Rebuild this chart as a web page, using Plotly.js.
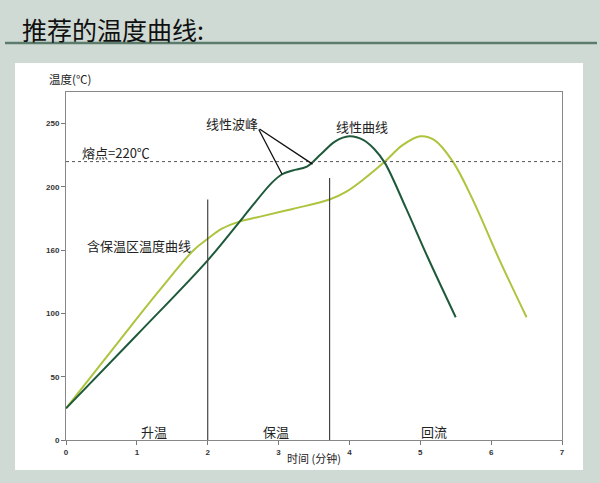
<!DOCTYPE html>
<html>
<head>
<meta charset="utf-8">
<script src="https://cdn.plot.ly/plotly-3.0.1.min.js"></script>
<style>
html,body{margin:0;padding:0;background:#d0dad4;}
#chart{width:600px;height:483px;}
</style>
</head>
<body>
<div id="chart"></div>
<script>
// ---- data ----
var linearTime = [0, 1, 2, 2.5, 2.9, 3.05, 3.2, 3.4, 3.6, 3.8, 4.0, 4.2, 4.35, 4.5, 4.8, 5.1, 5.5];
var linearTemp = [25, 83, 142, 176, 203, 210, 213, 216, 226, 236, 240, 237, 230, 219, 183, 145, 97];

var soakTime = [0, 0.76, 1.33, 1.8, 2.0, 2.2, 2.45, 2.74, 3.2, 3.72, 3.95, 4.2, 4.5, 4.75, 5.0, 5.2, 5.46, 5.74, 6.12, 6.5];
var soakTemp = [25, 79, 119, 150, 159, 167, 172.6, 176.5, 182.6, 190, 196, 206, 220, 233, 240, 237, 220, 190, 142, 97];

var xTickVals = [0, 1, 2, 3, 4, 5, 6, 7];
var yTickVals = [0, 50, 100, 150, 200, 250];
var yTickText = ['0', '50', '100', '160', '200', '250'];

var meltingPoint = 220;
var phaseBoundaries = [2, 3.72];
var phaseBoundaryTops = [190, 207];
var phaseLabels = ['升温', '保温', '回流'];
var phaseLabelX = [1.24, 2.97, 5.2];

var peakPoints = [[3.05, 210], [3.48, 218]];

// ---- chart ----
var traces = [
  {x: soakTime, y: soakTemp, mode: 'lines', line: {color: '#acc43e', width: 2, shape: 'spline', smoothing: 1}, hoverinfo: 'skip'},
  {x: linearTime, y: linearTemp, mode: 'lines', line: {color: '#1e5a3a', width: 2, shape: 'spline', smoothing: 1}, hoverinfo: 'skip'}
];

var px = function(p){ return (p - 66) / 496; };
var py = function(p){ return (440 - p) / 348; };

var shapes = [
  {type: 'rect', xref: 'paper', yref: 'paper', x0: px(15), x1: px(583), y0: py(470), y1: py(63), fillcolor: '#ffffff', line: {width: 0}, layer: 'below'},
  {type: 'line', xref: 'paper', yref: 'paper', x0: px(5), x1: px(597), y0: py(43), y1: py(43), line: {color: '#5b7b6b', width: 2.5}},
  {type: 'line', xref: 'x', yref: 'y', x0: 0, x1: 7, y0: meltingPoint, y1: meltingPoint, line: {color: '#555555', width: 1, dash: 'dot'}}
];
phaseBoundaries.forEach(function(b, i){
  shapes.push({type: 'line', xref: 'x', yref: 'y', x0: b, x1: b, y0: 0, y1: phaseBoundaryTops[i], line: {color: '#444444', width: 1.2}});
});

var txtFont = {family: 'Noto Sans CJK SC, sans-serif', size: 13, color: '#222'};
var annotations = [
  {xref: 'paper', yref: 'paper', x: px(20), y: py(29), xanchor: 'left', yanchor: 'middle', text: '推荐的温度曲线:', showarrow: false,
   font: {family: 'Noto Sans CJK SC, sans-serif', size: 25, color: '#111'}},
  {xref: 'paper', yref: 'paper', x: px(47), y: py(79), xanchor: 'left', yanchor: 'middle', text: '温度(℃)', showarrow: false, font: {family: 'Noto Sans CJK SC, sans-serif', size: 11.5, color: '#222'}},
  {xref: 'paper', yref: 'paper', x: px(314), y: py(458), xanchor: 'center', yanchor: 'middle', text: '时间 (分钟)', showarrow: false, font: {family: 'Noto Sans CJK SC, sans-serif', size: 11, color: '#222'}},
  {xref: 'x', yref: 'y', x: 0.2, y: 227, xanchor: 'left', yanchor: 'middle', text: '熔点=220℃', showarrow: false, font: txtFont},
  {xref: 'x', yref: 'y', x: 0.27, y: 154, xanchor: 'left', yanchor: 'middle', text: '含保温区温度曲线', showarrow: false, font: txtFont},
  {xref: 'x', yref: 'y', x: 1.95, y: 250, xanchor: 'left', yanchor: 'middle', text: '线性波峰', showarrow: false, font: txtFont},
  {xref: 'x', yref: 'y', x: 3.78, y: 248, xanchor: 'left', yanchor: 'middle', text: '线性曲线', showarrow: false, font: txtFont}
];
peakPoints.forEach(function(p){
  annotations.push({xref: 'x', yref: 'y', axref: 'x', ayref: 'y', x: p[0], y: p[1], ax: 2.71, ay: 246.5, text: '', showarrow: true, arrowhead: 0, arrowwidth: 1.3, arrowcolor: '#111', standoff: 0, startstandoff: 0});
});
phaseLabels.forEach(function(t, i){
  annotations.push({xref: 'x', yref: 'y', x: phaseLabelX[i], y: 7, xanchor: 'center', yanchor: 'middle', text: t, showarrow: false, font: txtFont});
});

var tickFont = {family: 'Arial, Liberation Sans, sans-serif', size: 8, color: '#333', weight: 'bold'};
var layout = {
  width: 600, height: 483,
  paper_bgcolor: '#d0dad4',
  plot_bgcolor: '#ffffff',
  margin: {l: 66, r: 38, t: 92, b: 43},
  showlegend: false,
  xaxis: {range: [0, 7], tickvals: xTickVals, ticks: 'outside', ticklen: 4, tickcolor: '#777',
          showline: true, linecolor: '#888', linewidth: 1, mirror: true, showgrid: false, zeroline: false,
          tickfont: tickFont},
  yaxis: {range: [0, 275], tickvals: yTickVals, ticktext: yTickText, ticks: 'outside', ticklen: 4, tickcolor: '#777',
          showline: true, linecolor: '#888', linewidth: 1, mirror: true, showgrid: false, zeroline: false,
          tickfont: tickFont},
  shapes: shapes,
  annotations: annotations
};

Plotly.newPlot('chart', traces, layout, {displayModeBar: false, staticPlot: true});
</script>
</body>
</html>
